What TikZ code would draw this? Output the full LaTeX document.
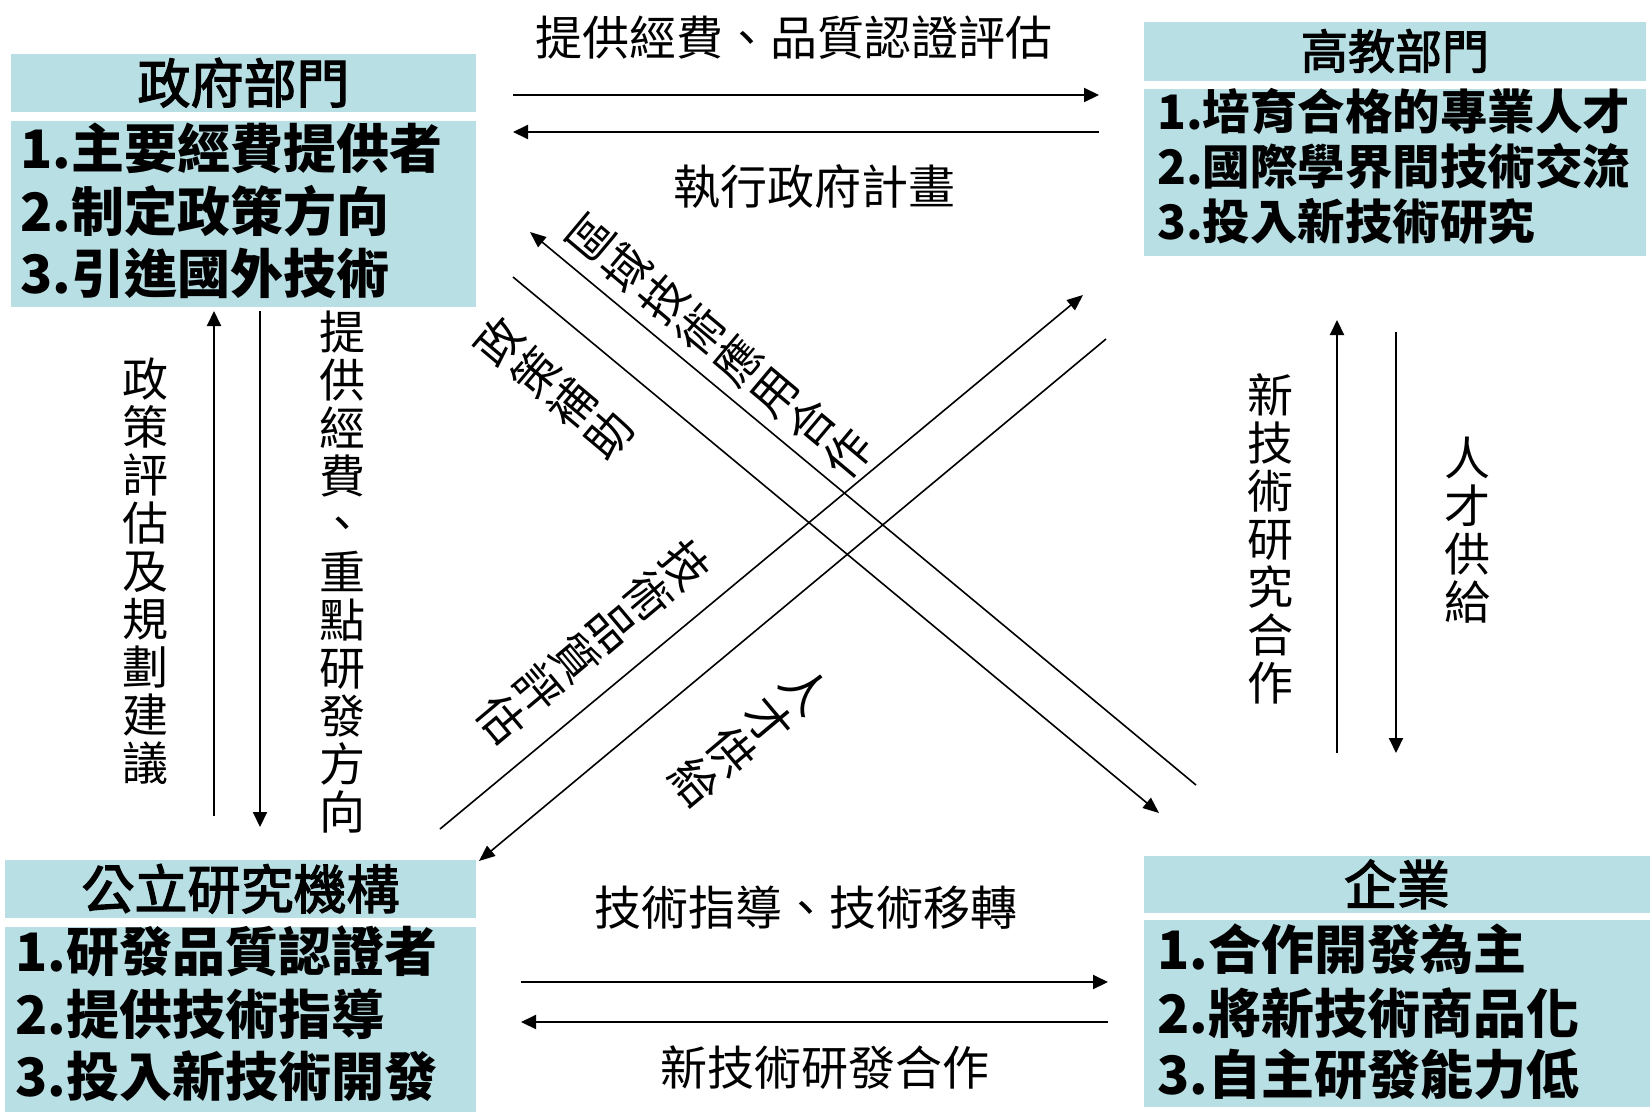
\documentclass[tikz,border=0pt]{standalone}
\usepackage{fontspec}
\newfontfamily\cjk{Noto Sans CJK TC}
\newfontfamily\cjkmed{Noto Sans CJK TC}[FakeBold=2.5]
\usetikzlibrary{arrows.meta}
\definecolor{boxfill}{RGB}{184,223,228}
\newcommand\vcomma{\raisebox{0.02em}{、}}
\tikzset{
  panel/.style={fill=boxfill, draw=none, inner sep=0pt, outer sep=0pt, anchor=north west},
  ttlA/.style={font=\cjkmed\fontsize{53}{53}\selectfont, inner sep=0pt},
  ttlB/.style={font=\cjkmed\fontsize{47}{47}\selectfont, inner sep=0pt},
  bodyA/.style={font=\cjk\bfseries\fontsize{53}{53}\selectfont, anchor=base west, inner sep=0pt},
  bodyB/.style={font=\cjk\bfseries\fontsize{47.5}{47.5}\selectfont, anchor=base west, inner sep=0pt},
  lbl/.style={font=\cjk\fontsize{47}{47}\selectfont, inner sep=0pt},
  vlbl/.style={font=\cjk\fontsize{46}{48}\selectfont, inner sep=0pt, align=center},
  arr/.style={line width=2pt, -{Triangle[length=15pt,width=14pt]}},
  darr/.style={line width=1.6pt, -{Triangle[length=16pt,width=13pt]}},
}
\begin{document}
\begin{tikzpicture}[x=1pt,y=-1pt]
\path[use as bounding box, fill=white] (0,0) rectangle (1652,1117);

% panels
\node[panel, minimum width=465pt, minimum height=57.5pt] (govT) at (11,54) {};
\node[panel, minimum width=465pt, minimum height=185.5pt] (govB) at (11,121) {};
\node[panel, minimum width=502pt, minimum height=59pt] (eduT) at (1144,21.5) {};
\node[panel, minimum width=502pt, minimum height=167pt] (eduB) at (1144,89) {};
\node[panel, minimum width=471pt, minimum height=57.5pt] (resT) at (5,860) {};
\node[panel, minimum width=471pt, minimum height=185.5pt] (resB) at (5,926.5) {};
\node[panel, minimum width=506pt, minimum height=56.5pt] (entT) at (1144,856) {};
\node[panel, minimum width=506pt, minimum height=187pt] (entB) at (1144,920) {};

% titles
\node[ttlA] (govTt) at (govT.center) {政府部門};
\node[ttlB] (eduTt) at (eduT.center) {高教部門};
\node[ttlA] (resTt) at (resT.center) {公立研究機構};
\node[ttlA] (entTt) at (entT.center) {企業};

% body lines
\node[bodyA] (gov1) at (20,168) {1.主要經費提供者};
\node[bodyA] (gov2) at (20,231) {2.制定政策方向};
\node[bodyA] (gov3) at (20,293.5) {3.引進國外技術};
\node[bodyB] (edu1) at (1157,129.5) {1.培育合格的專業人才};
\node[bodyB] (edu2) at (1157,184.5) {2.國際學界間技術交流};
\node[bodyB] (edu3) at (1157,239.5) {3.投入新技術研究};
\node[bodyA] (res1) at (15,971) {1.研發品質認證者};
\node[bodyA] (res2) at (15,1034) {2.提供技術指導};
\node[bodyA] (res3) at (15,1096) {3.投入新技術開發};
\node[bodyA] (ent1) at (1157,969.5) {1.合作開發為主};
\node[bodyA] (ent2) at (1157,1033) {2.將新技術商品化};
\node[bodyA] (ent3) at (1157,1094.5) {3.自主研發能力低};

% horizontal labels
\node[lbl] (lt1) at (793.5,37.5) {提供經費、品質認證評估};
\node[lbl] (lt2) at (814.5,187) {執行政府計畫};
\node[lbl] (lb1) at (805.5,908) {技術指導、技術移轉};
\node[lbl] (lb2) at (825,1067.5) {新技術研發合作};

% vertical labels
\node[vlbl] (v1) at (145,571) {政\\策\\評\\估\\及\\規\\劃\\建\\議};
\node[vlbl] (v2) at (342,572) {提\\供\\經\\費\\\vcomma\\重\\點\\研\\發\\方\\向};
\node[vlbl] (v3) at (1270,539) {新\\技\\術\\研\\究\\合\\作};
\node[vlbl] (v4) at (1467,530) {人\\才\\供\\給};

% diagonal labels
\node[vlbl, rotate=50] (d1) at (554,388) {政\\策\\補\\助};
\node[vlbl, rotate=50] (d2) at (720,346) {區\\域\\技\\術\\應\\用\\合\\作};
\node[vlbl, rotate=-50] (d3) at (594,642) {技\\術\\品\\質\\評\\估};
\node[vlbl, rotate=-50] (d4) at (750,736) {人\\才\\供\\給};

% connector end points
\coordinate (ta1s) at (513,95);   \coordinate (ta1e) at (1099,95);
\coordinate (ta2s) at (1099,132); \coordinate (ta2e) at (513,132);
\coordinate (ba1s) at (521,982);  \coordinate (ba1e) at (1108,982);
\coordinate (ba2s) at (1108,1022);\coordinate (ba2e) at (521,1022);
\coordinate (lups) at (214,816);  \coordinate (lupe) at (214,311);
\coordinate (ldns) at (260,311);  \coordinate (ldne) at (260,827);
\coordinate (rups) at (1337,753); \coordinate (rupe) at (1337,320);
\coordinate (rdns) at (1396,332); \coordinate (rdne) at (1396,753);
\coordinate (d1s) at (513,277);   \coordinate (d1e) at (1159,813);
\coordinate (d2s) at (1196,785);  \coordinate (d2e) at (530,232);
\coordinate (d3s) at (440,829);   \coordinate (d3e) at (1083,295);
\coordinate (d4s) at (1106,339);  \coordinate (d4e) at (479,861);

% connectors
\draw[arr] (ta1s) -- (ta1e);
\draw[arr] (ta2s) -- (ta2e);
\draw[arr] (ba1s) -- (ba1e);
\draw[arr] (ba2s) -- (ba2e);
\draw[arr] (lups) -- (lupe);
\draw[arr] (ldns) -- (ldne);
\draw[arr] (rups) -- (rupe);
\draw[arr] (rdns) -- (rdne);
\draw[darr] (d1s) -- (d1e);
\draw[darr] (d2s) -- (d2e);
\draw[darr] (d3s) -- (d3e);
\draw[darr] (d4s) -- (d4e);
\end{tikzpicture}
\end{document}
